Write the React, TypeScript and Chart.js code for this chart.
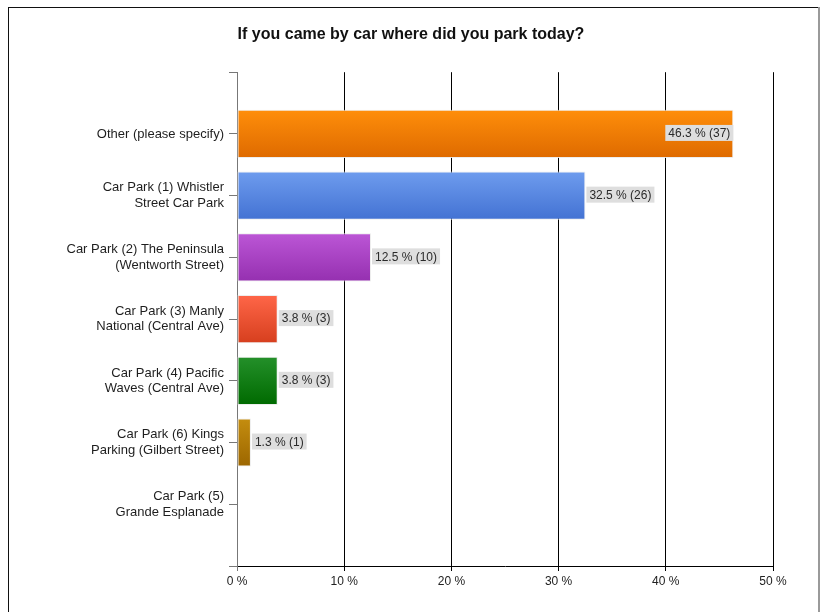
import React, { useEffect, useRef } from 'react';
import { Chart, registerables } from 'chart.js';

Chart.register(...registerables);

const TITLE = 'If you came by car where did you park today?';

const categories: (string | string[])[] = [
  'Other (please specify)',
  ['Car Park (1) Whistler', 'Street Car Park'],
  ['Car Park (2) The Peninsula', '(Wentworth Street)'],
  ['Car Park (3) Manly', 'National (Central Ave)'],
  ['Car Park (4) Pacific', 'Waves (Central Ave)'],
  ['Car Park (6) Kings', 'Parking (Gilbert Street)'],
  ['Car Park (5)', 'Grande Esplanade'],
];
const percents = [46.3, 32.5, 12.5, 3.8, 3.8, 1.3, 0];
const counts = [37, 26, 10, 3, 3, 1, 0];
const xTickValues = [0, 10, 20, 30, 40, 50];
const topColors = ['#FF8E0A', '#6E9CEE', '#BC56D6', '#FF6648', '#24902A', '#C48D0F'];
const bottomColors = ['#DE6A00', '#4372D3', '#9530B0', '#D63F1E', '#006A00', '#9C6600'];

const FONT = '"Liberation Sans", Arial, Helvetica, sans-serif';

// padded category axis: empty slot above and below
const yLabels = ['', ...categories, ''];
const barData = [null, ...percents, null];

export default function App() {
  const ref = useRef<HTMLCanvasElement | null>(null);

  useEffect(() => {
    if (!ref.current) return;
    Chart.defaults.font.family = FONT;

    const framePlugin = {
      id: 'frame',
      afterDraw(chart: any) {
        const ctx = chart.ctx;
        ctx.save();
        ctx.fillStyle = '#111';
        ctx.fillRect(8, 7, 1, 605);
        ctx.fillRect(8, 7, 810, 1);
        ctx.fillStyle = '#9a9a9a';
        ctx.fillRect(818, 7, 2, 605);
        ctx.restore();
      },
    };

    const labelPlugin = {
      id: 'valueBoxes',
      afterDatasetsDraw(chart: any) {
        const meta = chart.getDatasetMeta(0);
        const ctx = chart.ctx;
        ctx.save();
        ctx.font = '12px ' + FONT;
        ctx.textBaseline = 'middle';
        meta.data.forEach((el: any, idx: number) => {
          const i = idx - 1;
          if (i < 0 || i >= percents.length) return;
          if (!counts[i]) return;
          const text = `${percents[i].toFixed(1)} % (${counts[i]})`;
          const w = ctx.measureText(text).width + 6;
          const h = 16;
          const x = el.x;
          const y = el.y;
          let bx = x + 1;
          if (bx + w > chart.chartArea.right) bx = x - w;
          ctx.fillStyle = '#DEDEDE';
          ctx.fillRect(bx, y - h / 2 - 1, w, h);
          ctx.fillStyle = '#2a2a2a';
          ctx.fillText(text, bx + 3, y);
        });
        ctx.restore();
      },
    };

    const chart = new Chart(ref.current, {
      type: 'bar',
      data: {
        labels: yLabels,
        datasets: [
          {
            data: barData as any,
            backgroundColor: (c: any) => {
              const i = c.dataIndex - 1;
              if (i < 0 || i >= topColors.length) return 'rgba(0,0,0,0)';
              const chart = c.chart;
              const ys = chart.scales && chart.scales.y;
              if (!ys || !chart.chartArea) return topColors[i];
              const center = ys.getPixelForValue(c.dataIndex);
              const step = ys.getPixelForValue(1) - ys.getPixelForValue(0);
              const half = (step * 0.78) / 2;
              const g = chart.ctx.createLinearGradient(0, center - half, 0, center + half);
              g.addColorStop(0, topColors[i]);
              g.addColorStop(1, bottomColors[i]);
              return g;
            },
            borderColor: 'rgba(235,235,235,0.9)',
            borderWidth: 1,
            borderSkipped: false,
            barPercentage: 0.78,
            categoryPercentage: 1,
          },
        ],
      },
      options: {
        indexAxis: 'y',
        responsive: false,
        animation: false,
        devicePixelRatio: 1,
        layout: { padding: 0 },
        plugins: {
          legend: { display: false },
          tooltip: { enabled: false },
          title: {
            display: true,
            text: TITLE,
            color: '#111',
            font: { size: 16, weight: 'bold', family: FONT },
            padding: { top: 25, bottom: 28 },
          },
        },
        scales: {
          x: {
            type: 'linear',
            min: 0,
            max: 50,
            afterBuildTicks: (s: any) => {
              s.ticks = xTickValues.map((v) => ({ value: v }));
            },
            ticks: {
              callback: (v: any) => v + ' %',
              font: { size: 12, family: FONT },
              color: '#222',
              padding: 3,
            },
            grid: {
              color: (c: any) => (c.tick && c.tick.value === 0 ? '#777' : '#000'),
              tickLength: 5,
              lineWidth: 1,
            },
            border: { color: '#000' },
            afterFit: (s: any) => {
              s.height = 46;
            },
          },
          y: {
            type: 'category',
            offset: false,
            grid: { offset: false, drawOnChartArea: false, drawTicks: true, tickLength: 8, color: '#777' },
            border: { color: '#777' },
            ticks: {
              autoSkip: false,
              font: { size: 13, family: FONT },
              color: '#1e1e1e',
              padding: 5,
            },
            afterFit: (s: any) => {
              s.width = 237;
            },
          },
          y2: {
            type: 'linear',
            position: 'right',
            display: true,
            ticks: { display: false },
            grid: { display: false },
            border: { display: false },
            afterFit: (s: any) => {
              s.width = 49;
            },
          },
        },
      } as any,
      plugins: [labelPlugin, framePlugin],
    });
    return () => chart.destroy();
  }, []);

  return (
    <div style={{ position: 'fixed', left: 0, top: 0, width: 822, height: 612, background: '#fff' }}>
      <canvas ref={ref} width={822} height={612} style={{ display: 'block' }} />
    </div>
  );
}
